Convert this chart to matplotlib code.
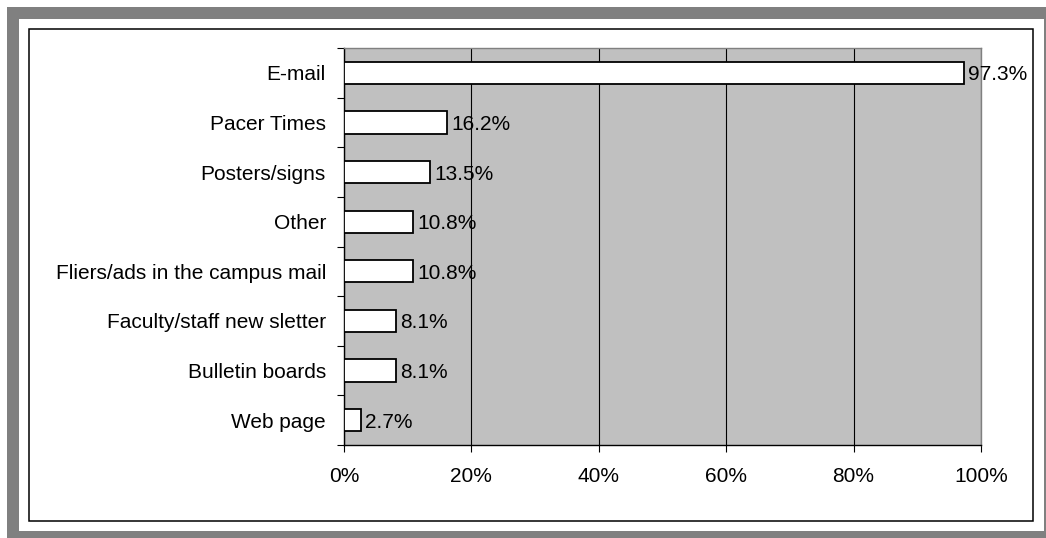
import matplotlib
matplotlib.use("Agg")
import matplotlib.pyplot as plt
from matplotlib.patches import Rectangle
from matplotlib.ticker import FuncFormatter, FixedLocator

# Survey: how respondents heard about events
categories = [
    "E-mail",
    "Pacer Times",
    "Posters/signs",
    "Other",
    "Fliers/ads in the campus mail",
    "Faculty/staff new sletter",
    "Bulletin boards",
    "Web page",
]
percentages = [97.3, 16.2, 13.5, 10.8, 10.8, 8.1, 8.1, 2.7]
x_ticks = [0, 20, 40, 60, 80, 100]

plt.rcParams["font.family"] = ["Liberation Sans", "DejaVu Sans"]
FS = 15

W, H = 1046, 538
fig = plt.figure(figsize=(W / 100, H / 100), dpi=100)
fig.patch.set_facecolor("white")

# Outer grey frame, white mat and thin black border
fig.add_artist(Rectangle((7 / W, 0), 1, (H - 7) / H, transform=fig.transFigure,
                         facecolor="#808080", edgecolor="none", zorder=-10))
fig.add_artist(Rectangle((19 / W, 7 / H), 1025 / W, 512 / H, transform=fig.transFigure,
                         facecolor="white", edgecolor="none", zorder=-9))
fig.add_artist(Rectangle((29 / W, 17 / H), 1004 / W, 492 / H, transform=fig.transFigure,
                         facecolor="none", edgecolor="black", linewidth=1.1, zorder=-8))

ax = fig.add_axes([344 / W, (H - 445) / H, 637 / W, 397 / H])
ax.set_facecolor("#C0C0C0")

ypos = list(range(len(categories)))
ax.barh(ypos, percentages, height=0.45, color="white", edgecolor="black",
        linewidth=1.3, zorder=3)

for y, v in zip(ypos, percentages):
    ax.annotate(f"{v:.1f}%", xy=(v, y), xytext=(3.0, 0), textcoords="offset points",
                ha="left", va="center_baseline", fontsize=FS, zorder=4)

ax.set_xlim(0, 100)
ax.set_ylim(len(categories) - 0.5, -0.5)

ax.xaxis.set_major_locator(FixedLocator(x_ticks))
ax.xaxis.set_major_formatter(FuncFormatter(lambda v, p: f"{v:.0f}%"))
ax.tick_params(axis="x", direction="out", length=5, width=0.8, pad=11,
               labelsize=FS, color="black")

ax.set_yticks(ypos)
ax.set_yticklabels(categories, va="center_baseline")
ax.set_yticks([i - 0.5 for i in range(len(categories) + 1)], minor=True)
ax.tick_params(axis="y", which="major", length=0, pad=13, labelsize=FS)
ax.tick_params(axis="y", which="minor", direction="out", length=5, width=0.8,
               color="black")

ax.grid(axis="x", color="black", linewidth=0.8, zorder=1)
ax.set_axisbelow(True)

ax.spines["left"].set_color("black")
ax.spines["bottom"].set_color("black")
ax.spines["top"].set_color("#808080")
ax.spines["right"].set_color("#808080")
for s in ax.spines.values():
    s.set_linewidth(1.0)

fig.savefig("out.png", dpi=100, facecolor="white")
